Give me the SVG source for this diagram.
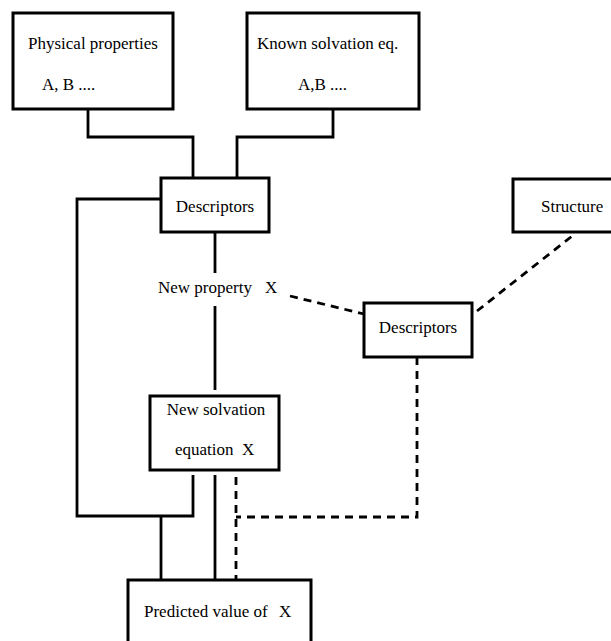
<svg xmlns="http://www.w3.org/2000/svg" width="611" height="641" viewBox="0 0 611 641" font-family="'Liberation Serif', 'Times New Roman', 'DejaVu Serif', serif">
<style>
.box{fill:#fff;stroke:#000;stroke-width:3}
.ln{fill:none;stroke:#000;stroke-width:2.8}
.dash{fill:none;stroke:#000;stroke-width:2.8;stroke-dasharray:8 6}
text{font-family:'Liberation Serif','Times New Roman','DejaVu Serif',serif;font-size:17px;fill:#000}
.c{text-anchor:middle}
</style>
<rect width="611" height="641" fill="#fff"/>
<g id="connectors">
<polyline class="ln" points="88,109 88,137 193,137 193,178"/>
<polyline class="ln" points="333,109 333,137 237,137 237,178"/>
<polyline class="ln" points="161,199 77,199 77,516 193,516 193,475"/>
<line class="ln" x1="215" y1="232" x2="215" y2="273"/>
<line class="ln" x1="215" y1="306" x2="215" y2="390"/>
<line class="ln" x1="215" y1="475" x2="215" y2="580"/>
<line class="ln" x1="161" y1="516" x2="161" y2="580"/>
<line class="dash" x1="236" y1="477" x2="236" y2="580"/>
<polyline class="dash" points="417,357 417,517 236,517"/>
<line class="dash" x1="290" y1="296" x2="364" y2="314"/>
<line class="dash" x1="477" y1="311" x2="576" y2="233"/>
</g>
<g id="physical">
<rect class="box" x="13" y="13" width="160" height="96"/>
<text x="28" y="49">Physical properties</text>
<text x="42" y="90">A, B ....</text>
</g>
<g id="known">
<rect class="box" x="247" y="13" width="172" height="96"/>
<text x="257" y="49">Known solvation eq.</text>
<text x="298" y="90">A,B ....</text>
</g>
<g id="descriptors1">
<rect class="box" x="161" y="178" width="108" height="54"/>
<text class="c" x="215" y="212">Descriptors</text>
</g>
<g id="newprop">
<text x="158" y="293">New property</text>
<text x="265" y="293">X</text>
</g>
<g id="structure">
<rect class="box" x="513" y="179" width="110" height="53"/>
<text x="541" y="212">Structure</text>
</g>
<g id="descriptors2">
<rect class="box" x="364" y="303" width="108" height="54"/>
<text class="c" x="418" y="333">Descriptors</text>
</g>
<g id="neweq">
<rect class="box" x="150" y="396" width="129" height="74"/>
<text class="c" x="216" y="415">New solvation</text>
<text x="175" y="455">equation</text>
<text x="242" y="455">X</text>
</g>
<g id="predicted">
<rect class="box" x="128" y="580" width="183" height="80"/>
<text x="144" y="617">Predicted value of</text>
<text x="279" y="617">X</text>
</g>
</svg>
